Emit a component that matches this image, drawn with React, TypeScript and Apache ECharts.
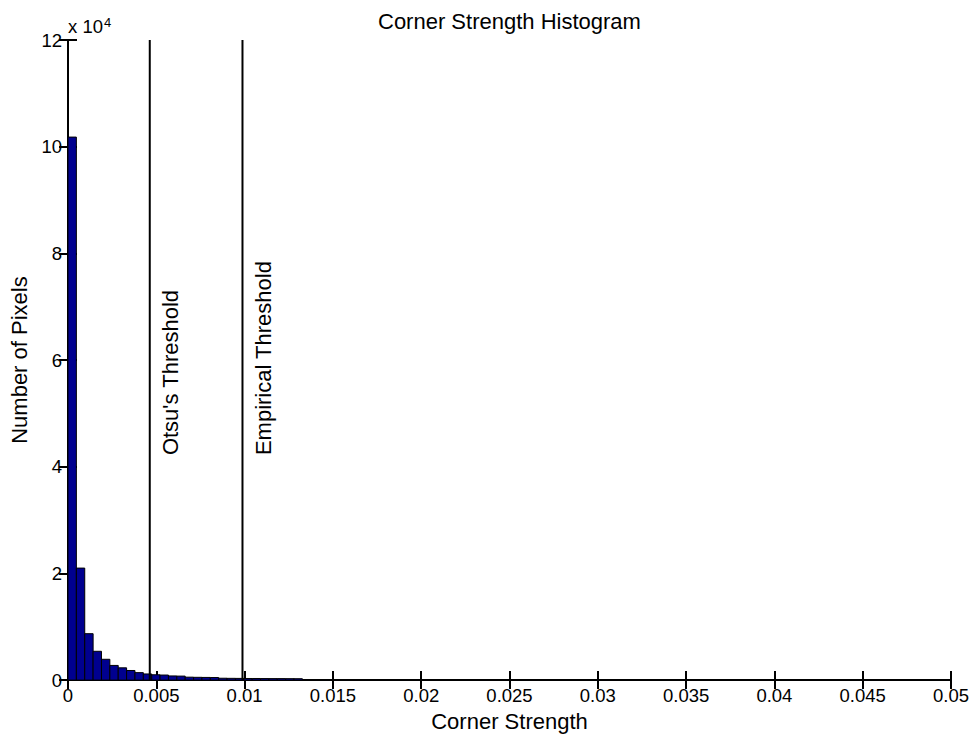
import React, { useEffect, useRef } from "react";
import * as echarts from "echarts";

// Histogram data (bin width in Corner Strength units, counts per bin)
const binWidth = 0.000474;
const counts = [
  101800, 21000, 8700, 5400, 3900, 2750, 2300, 1800, 1400, 1150,
  1000, 950, 780, 750, 550, 520, 500, 480, 350, 330,
  320, 300, 300, 290, 280, 280, 270, 260,
];
const thresholdNames = ["Otsu's Threshold", "Empirical Threshold"];
const thresholdValues = [0.00463, 0.00988];
const xMin = 0;
const xMax = 0.05;
const xInterval = 0.005;
const yMin = 0;
const yMax = 120000;
const yInterval = 20000;
const yScale = 10000;

const FONT = "'Liberation Sans', Arial, sans-serif";

export default function App() {
  const ref = useRef<HTMLDivElement>(null);
  useEffect(() => {
    if (!ref.current) return;
    const chart = echarts.init(ref.current, undefined, { renderer: "svg" });
    const histData = counts.map((c, i) => [i * binWidth, (i + 1) * binWidth, c]);
    const axisLine = { show: true, lineStyle: { color: "#000", width: 2 } };
    const tick = { show: true, inside: true, length: 9, lineStyle: { color: "#000", width: 2 } };
    const thresholdSeries = thresholdValues.map((v, i) => ({
      type: "line",
      name: thresholdNames[i],
      xAxisIndex: 0,
      yAxisIndex: 0,
      data: [
        [v, yMin],
        [v, yMax],
      ],
      symbol: "none",
      silent: true,
      z: 5,
      lineStyle: { color: "#000", width: 2, type: "solid" },
    }));
    const xyGraphic = [
      {
        type: "text",
        left: 68,
        top: 16,
        style: {
          text: "{a|x 10}{b|4}",
          rich: {
            a: { fontFamily: FONT, fontSize: 18.5, fill: "#000", verticalAlign: "bottom", lineHeight: 20 },
            b: { fontFamily: FONT, fontSize: 13, fill: "#000", verticalAlign: "top", lineHeight: 20, padding: [0, 0, 8, 1] },
          },
        },
      },
    ];
    chart.setOption({
      animation: false,
      backgroundColor: "#fff",
      title: {
        text: "Corner Strength Histogram",
        left: 373,
        top: 5,
        textStyle: { fontFamily: FONT, fontSize: 22, fontWeight: "normal", color: "#000" },
      },
      grid: { left: 68, right: 26, top: 40, bottom: 56, containLabel: false },
      xAxis: [
        {
          type: "value",
          min: xMin,
          max: xMax,
          interval: xInterval,
          position: "bottom",
          name: "Corner Strength",
          nameLocation: "middle",
          nameGap: 27,
          nameTextStyle: { fontFamily: FONT, fontSize: 22, color: "#000", verticalAlign: "top" },
          axisLine,
          axisTick: tick,
          splitLine: { show: false },
          axisLabel: {
            fontFamily: FONT,
            fontSize: 18.5,
            color: "#000",
            margin: 6,
            formatter: (v: number) => (v === 0 ? "0" : String(+v.toFixed(4))),
          },
        },
        {
          type: "value",
          min: xMin,
          max: xMax,
          interval: xInterval,
          position: "top",
          axisLine,
          axisTick: tick,
          splitLine: { show: false },
          axisLabel: { show: false },
        },
      ],
      yAxis: [
        {
          type: "value",
          min: yMin,
          max: yMax,
          interval: yInterval,
          position: "left",
          name: "Number of Pixels",
          nameLocation: "middle",
          nameGap: 36,
          nameTextStyle: { fontFamily: FONT, fontSize: 22, color: "#000" },
          axisLine,
          axisTick: tick,
          splitLine: { show: false },
          axisLabel: {
            fontFamily: FONT,
            fontSize: 18.5,
            color: "#000",
            margin: 6,
            formatter: (v: number) => String(v / yScale),
          },
        },
        {
          type: "value",
          min: yMin,
          max: yMax,
          interval: yInterval,
          position: "right",
          axisLine,
          axisTick: tick,
          splitLine: { show: false },
          axisLabel: { show: false },
        },
      ],
      graphic: xyGraphic,
      series: [
        {
          type: "custom",
          name: "Histogram",
          xAxisIndex: 0,
          yAxisIndex: 0,
          data: histData,
          encode: { x: [0, 1], y: 2 },
          renderItem: (params: any, api: any) => {
            const p0 = api.coord([api.value(0), api.value(2)]);
            const p1 = api.coord([api.value(1), 0]);
            return {
              type: "rect",
              shape: { x: p0[0], y: p0[1], width: p1[0] - p0[0], height: p1[1] - p0[1] },
              style: { fill: "#00008F", stroke: "#000", lineWidth: 1 },
            };
          },
        },
        ...thresholdSeries,
      ],
    });
    // Rotated threshold labels placed next to their lines (via the axis scale)
    const labels = thresholdValues.map((v, i) => {
      const p = chart.convertToPixel({ xAxisIndex: 0, yAxisIndex: 0 }, [v, yMin]) as number[];
      return {
        type: "text",
        x: p[0] + 10,
        y: p[1] - 225,
        rotation: Math.PI / 2,
        silent: true,
        style: {
          text: thresholdNames[i],
          fontFamily: FONT,
          fontSize: 22,
          fill: "#000",
          align: "left",
          verticalAlign: "top",
        },
      };
    });
    chart.setOption({ graphic: [...xyGraphic, ...labels] });
    return () => chart.dispose();
  }, []);
  return (
    <div
      ref={ref}
      style={{ position: "absolute", left: 0, top: 0, width: 977, height: 737, background: "#fff" }}
    />
  );
}
